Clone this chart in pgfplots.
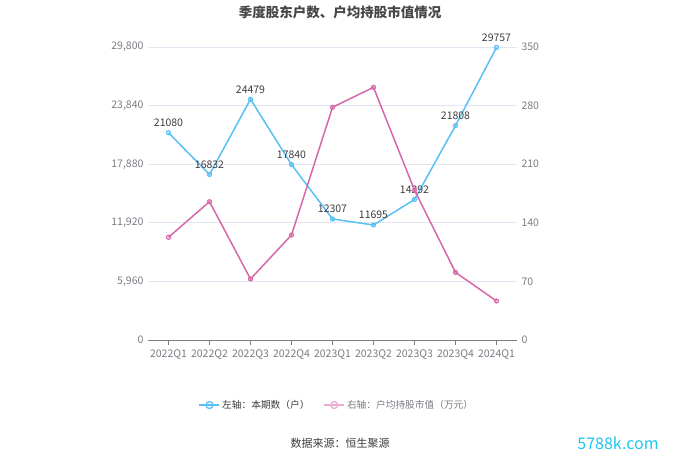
\documentclass[border=0pt]{standalone}
\usepackage{fontspec}
\setmainfont{Noto Sans CJK SC}
\usepackage{pgfplots}
\pgfplotsset{compat=1.18}
\definecolor{bl}{RGB}{88,192,245}
\definecolor{pk}{RGB}{214,104,170}
\definecolor{pklight}{RGB}{238,170,212}
\definecolor{gridc}{RGB}{226,230,242}
\definecolor{tickc}{RGB}{122,124,132}
\definecolor{txt}{RGB}{60,60,60}
\definecolor{wm}{RGB}{30,198,240}
\begin{document}
\begin{tikzpicture}[x=1pt,y=1pt]
\path[use as bounding box] (0,0) rectangle (680,460);
\pgfplotsset{base/.style={
  scale only axis, width=369pt, height=293pt,
  at={(148pt,120pt)}, anchor=south west,
  xmin=-0.5, xmax=8.5, ymin=0, clip=false,
  /pgf/number format/assume math mode=true,
  /pgf/number format/1000 sep={,},
  tick label style={font=\fontsize{10.5}{12}\selectfont, text=tickc},
  scaled y ticks=false,
}}
\begin{axis}[base,
  ymax=29800, ytick={0,5960,11920,17880,23840,29800},
  ymajorgrids, grid style={gridc, line width=0.8pt},
  axis x line*=bottom, axis y line*=left,
  y axis line style={draw=none},
  x axis line style={draw=tickc, line width=0.8pt},
  xtick={0,...,8},
  xticklabels={2022Q1,2022Q2,2022Q3,2022Q4,2023Q1,2023Q2,2023Q3,2023Q4,2024Q1},
  x tick style={draw=tickc, line width=0.8pt},
  xtick align=outside, ytick style={draw=none},
  major tick length=5pt,
  yticklabel style={xshift=-1pt},
  xticklabel style={yshift=-1pt},
]
\addplot[bl, line width=1.5pt, mark=o, mark size=2pt, mark options={fill=white, line width=1.2pt},
  nodes near coords, point meta=explicit symbolic,
  every node near coord/.append style={font=\fontsize{10.5}{12}\selectfont, text=txt, anchor=south, yshift=2pt}]
  table[meta=lab] {
x y lab
0 21080 21080
1 16832 16832
2 24479 24479
3 17840 17840
4 12307 12307
5 11695 11695
6 14292 14292
7 21808 21808
8 29757 29757
};
\end{axis}
\begin{axis}[base,
  ymax=350, ytick={0,70,140,210,280,350},
  axis y line*=right, axis x line=none,
  y axis line style={draw=none}, ytick style={draw=none},
  yticklabel style={xshift=1pt},
  legend columns=2,
  legend style={at={(0.512,-0.222)}, anchor=center, draw=none, fill=none,
    font=\fontsize{9.7}{12}\selectfont, /tikz/every even column/.append style={column sep=12pt}},
  legend image code/.code={\draw[mark repeat=2,mark phase=2] plot coordinates {(0pt,0pt)(10pt,0pt)(20pt,0pt)};},
]
\addlegendimage{bl, line width=1.5pt, mark=o, mark size=3.5pt, mark options={fill=white, line width=1.3pt}}
\addlegendentry[text=txt]{左轴：本期数（户）}
\addlegendimage{pklight, line width=1.5pt, mark=o, mark size=3.5pt, mark options={fill=white, line width=1.3pt}}
\addlegendentry[text=tickc]{右轴：户均持股市值（万元）}
\addplot[pk, line width=1.5pt, mark=o, mark size=2pt, mark options={fill=white, line width=1.2pt}, forget plot]
  table {
x y
0 122.7
1 165.2
2 72.9
3 125.4
4 278.0
5 301.8
6 179.0
7 80.8
8 46.6
};
\end{axis}
\node[font=\bfseries\fontsize{13.5}{15}\selectfont, text={rgb,255:red,70;green,70;blue,70}] at (340,448) {季度股东户数、户均持股市值情况};
\node[font=\fontsize{11}{13}\selectfont, text=txt] at (340,17) {数据来源：恒生聚源};
\node[font=\fontsize{16}{18}\selectfont, text=wm] at (618,17) {5788k.com};
\end{tikzpicture}
\end{document}
